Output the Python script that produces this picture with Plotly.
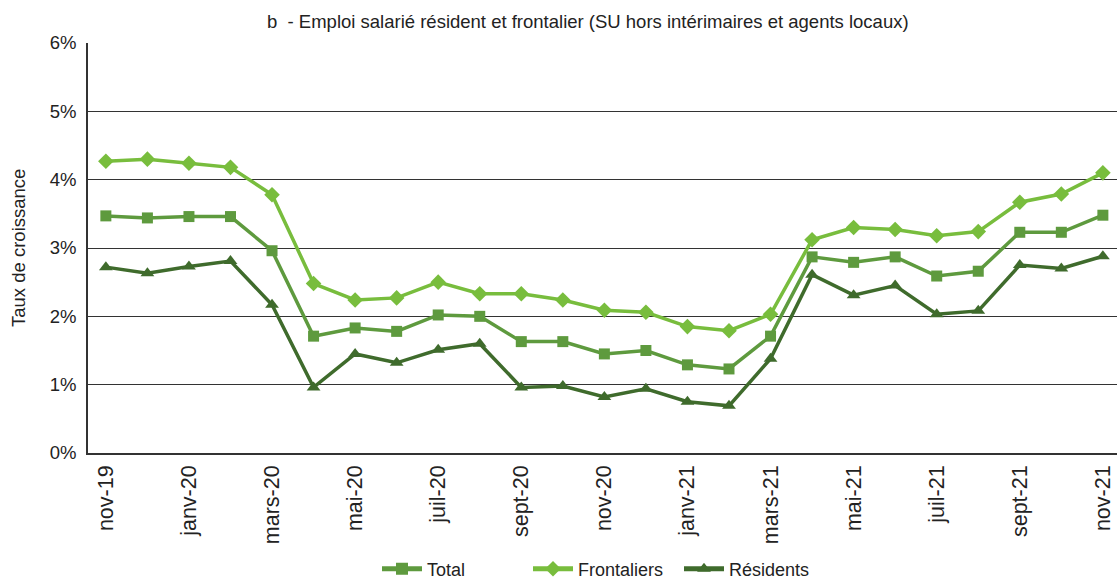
import plotly.graph_objects as go

months = ["nov-19", "déc-19", "janv-20", "févr-20", "mars-20", "avr-20", "mai-20", "juin-20",
          "juil-20", "août-20", "sept-20", "oct-20", "nov-20", "déc-20", "janv-21", "févr-21",
          "mars-21", "avr-21", "mai-21", "juin-21", "juil-21", "août-21", "sept-21", "oct-21", "nov-21"]
tick_labels = ["nov-19", "", "janv-20", "", "mars-20", "", "mai-20", "", "juil-20", "", "sept-20", "",
               "nov-20", "", "janv-21", "", "mars-21", "", "mai-21", "", "juil-21", "", "sept-21", "", "nov-21"]

total = [3.47, 3.44, 3.46, 3.46, 2.96, 1.71, 1.83, 1.78, 2.02, 2.00, 1.63, 1.63,
         1.45, 1.50, 1.29, 1.23, 1.71, 2.87, 2.79, 2.87, 2.59, 2.66, 3.23, 3.23, 3.48]
frontaliers = [4.27, 4.30, 4.24, 4.18, 3.78, 2.48, 2.24, 2.27, 2.50, 2.33, 2.33, 2.24,
               2.09, 2.06, 1.85, 1.79, 2.03, 3.12, 3.30, 3.27, 3.18, 3.24, 3.67, 3.79, 4.10]
residents = [2.72, 2.63, 2.73, 2.81, 2.17, 0.96, 1.45, 1.32, 1.51, 1.60, 0.96, 0.98,
             0.82, 0.94, 0.75, 0.69, 1.38, 2.61, 2.31, 2.45, 2.03, 2.08, 2.75, 2.70, 2.88]

x_idx = list(range(len(months)))

fig = go.Figure()
fig.add_trace(go.Scatter(x=x_idx, y=total, name="Total", mode="lines+markers",
                         line=dict(color="#5e9a3e", width=3.5),
                         marker=dict(symbol="square", size=11, color="#5e9a3e")))
fig.add_trace(go.Scatter(x=x_idx, y=frontaliers, name="Frontaliers", mode="lines+markers",
                         line=dict(color="#78bd3d", width=3.5),
                         marker=dict(symbol="diamond", size=12, color="#78bd3d")))
fig.add_trace(go.Scatter(x=x_idx, y=residents, name="Résidents", mode="lines+markers",
                         line=dict(color="#3f6b2c", width=3.5),
                         marker=dict(symbol="triangle-up", size=12, color="#3f6b2c")))

font = "Liberation Sans, Arial, sans-serif"
plot_w = 1117 - 88
plot_h = 453 - 43
fig.update_layout(
    width=1117, height=579,
    margin=dict(l=88, r=0, t=43, b=579 - 453, autoexpand=False),
    paper_bgcolor="white", plot_bgcolor="white",
    font=dict(family=font, size=18, color="#222"),
    showlegend=True,
    legend=dict(orientation="h", x=(377 - 88) / plot_w, xanchor="left",
                y=(453 - 569) / plot_h, yanchor="middle",
                font=dict(size=18, color="#222"), tracegroupgap=0, itemsizing="constant",
                itemwidth=40, entrywidth=96, entrywidthmode="pixels"),
)
fig.add_annotation(text="b  - Emploi salarié résident et frontalier (SU hors intérimaires et agents locaux)",
                   x=(588 - 88) / plot_w, xref="paper", xanchor="center",
                   y=1 + (43 - 22) / plot_h, yref="paper", yanchor="middle",
                   showarrow=False, font=dict(size=18.5, color="#222"))
fig.add_annotation(text="Taux de croissance", textangle=-90,
                   x=(18 - 88) / plot_w, xref="paper", xanchor="center",
                   y=0.5, yref="paper", yanchor="middle",
                   showarrow=False, font=dict(size=18.5, color="#222"))

fig.update_xaxes(
    tickmode="array", tickvals=x_idx, ticktext=tick_labels, tickangle=-90,
    range=[-0.43, 24.34], showgrid=False, showline=True, linecolor="#333", linewidth=1.5,
    ticks="", tickfont=dict(size=21.5, color="#222"), zeroline=False, automargin=False,
    ticklabelstandoff=2,
)
fig.update_yaxes(
    range=[0, 6], tickvals=[0, 1, 2, 3, 4, 5, 6], ticktext=["0%", "1%", "2%", "3%", "4%", "5%", "6%"],
    showgrid=True, gridcolor="#333", gridwidth=1.3, showline=True, linecolor="#333", linewidth=1.5,
    ticks="", tickfont=dict(size=18.5, color="#222"), zeroline=False, ticklabelstandoff=6,
    automargin=False,
)

fig.write_html("out.html", config={"displayModeBar": False},
               post_script="document.body.style.margin='0';document.body.style.overflow='hidden';")
